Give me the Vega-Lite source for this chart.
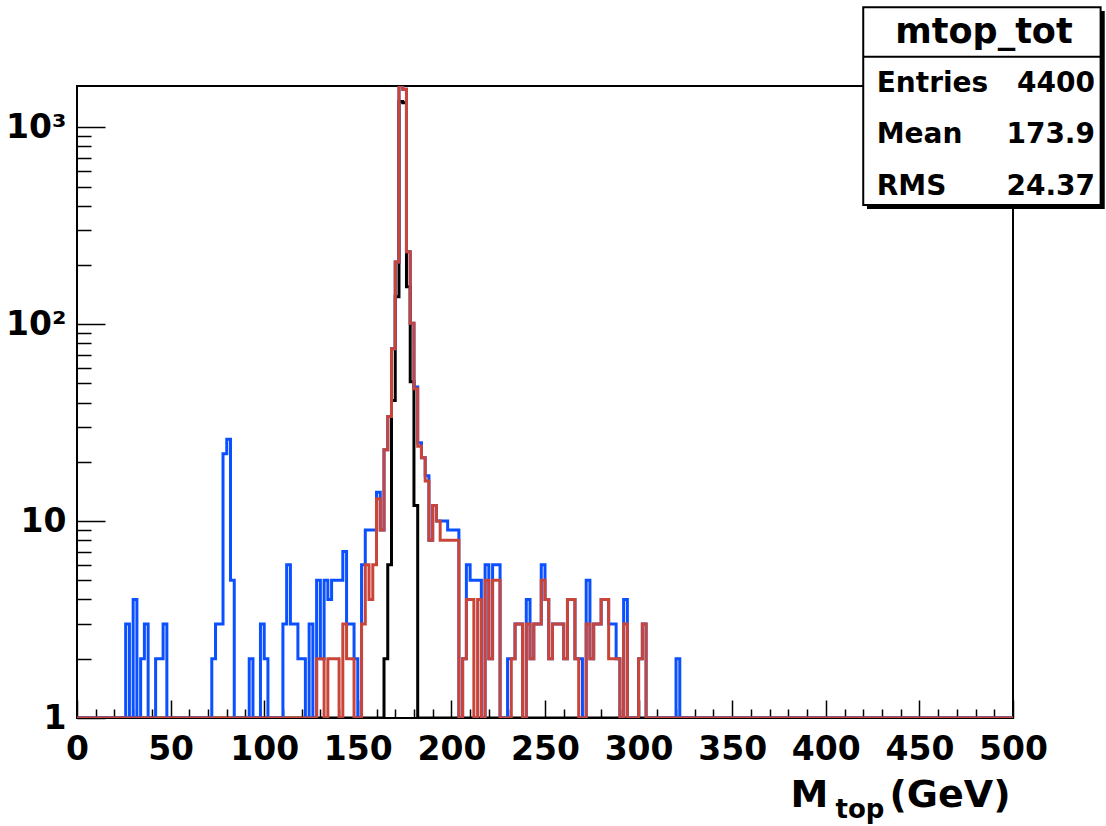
{
"$schema": "https://vega.github.io/schema/vega-lite/v6.json",
"width": 936, "height": 632,
"autosize": {"type": "none"},
"padding": {"left": 77, "top": 86, "right": 93, "bottom": 108},
"background": "white",
"config": {"view": {"stroke": "black", "strokeWidth": 2}, "axis": {"grid": false}},
"data": {"values": [
{"x":0,"black":1,"blue":1,"red":1},{"x":2,"black":1,"blue":1,"red":1},{"x":4,"black":1,"blue":1,"red":1},{"x":6,"black":1,"blue":1,"red":1},{"x":8,"black":1,"blue":1,"red":1},
{"x":10,"black":1,"blue":1,"red":1},{"x":12,"black":1,"blue":1,"red":1},{"x":14,"black":1,"blue":1,"red":1},{"x":16,"black":1,"blue":1,"red":1},{"x":18,"black":1,"blue":1,"red":1},
{"x":20,"black":1,"blue":1,"red":1},{"x":22,"black":1,"blue":1,"red":1},{"x":24,"black":1,"blue":1,"red":1},{"x":26,"black":1,"blue":3,"red":1},{"x":28,"black":1,"blue":1,"red":1},
{"x":30,"black":1,"blue":4,"red":1},{"x":32,"black":1,"blue":1,"red":1},{"x":34,"black":1,"blue":2,"red":1},{"x":36,"black":1,"blue":3,"red":1},{"x":38,"black":1,"blue":1,"red":1},
{"x":40,"black":1,"blue":1,"red":1},{"x":42,"black":1,"blue":2,"red":1},{"x":44,"black":1,"blue":2,"red":1},{"x":46,"black":1,"blue":3,"red":1},{"x":48,"black":1,"blue":1,"red":1},
{"x":50,"black":1,"blue":1,"red":1},{"x":52,"black":1,"blue":1,"red":1},{"x":54,"black":1,"blue":1,"red":1},{"x":56,"black":1,"blue":1,"red":1},{"x":58,"black":1,"blue":1,"red":1},
{"x":60,"black":1,"blue":1,"red":1},{"x":62,"black":1,"blue":1,"red":1},{"x":64,"black":1,"blue":1,"red":1},{"x":66,"black":1,"blue":1,"red":1},{"x":68,"black":1,"blue":1,"red":1},
{"x":70,"black":1,"blue":1,"red":1},{"x":72,"black":1,"blue":2,"red":1},{"x":74,"black":1,"blue":3,"red":1},{"x":76,"black":1,"blue":3,"red":1},{"x":78,"black":1,"blue":22,"red":1},
{"x":80,"black":1,"blue":26,"red":1},{"x":82,"black":1,"blue":5,"red":1},{"x":84,"black":1,"blue":1,"red":1},{"x":86,"black":1,"blue":1,"red":1},{"x":88,"black":1,"blue":1,"red":1},
{"x":90,"black":1,"blue":1,"red":1},{"x":92,"black":1,"blue":2,"red":1},{"x":94,"black":1,"blue":1,"red":1},{"x":96,"black":1,"blue":1,"red":1},{"x":98,"black":1,"blue":3,"red":1},
{"x":100,"black":1,"blue":2,"red":1},{"x":102,"black":1,"blue":1,"red":1},{"x":104,"black":1,"blue":1,"red":1},{"x":106,"black":1,"blue":1,"red":1},{"x":108,"black":1,"blue":1,"red":1},
{"x":110,"black":1,"blue":3,"red":1},{"x":112,"black":1,"blue":6,"red":1},{"x":114,"black":1,"blue":3,"red":1},{"x":116,"black":1,"blue":3,"red":1},{"x":118,"black":1,"blue":2,"red":1},
{"x":120,"black":1,"blue":2,"red":1},{"x":122,"black":1,"blue":1,"red":1},{"x":124,"black":1,"blue":3,"red":1},{"x":126,"black":1,"blue":1,"red":1},{"x":128,"black":1,"blue":5,"red":2},
{"x":130,"black":1,"blue":2,"red":2},{"x":132,"black":1,"blue":5,"red":1},{"x":134,"black":1,"blue":4,"red":2},{"x":136,"black":1,"blue":5,"red":2},{"x":138,"black":1,"blue":5,"red":2},
{"x":140,"black":1,"blue":5,"red":1},{"x":142,"black":1,"blue":7,"red":3},{"x":144,"black":1,"blue":3,"red":2},{"x":146,"black":1,"blue":3,"red":2},{"x":148,"black":1,"blue":2,"red":1},
{"x":150,"black":1,"blue":1,"red":1},{"x":152,"black":1,"blue":6,"red":3},{"x":154,"black":1,"blue":9,"red":6},{"x":156,"black":1,"blue":9,"red":4},{"x":158,"black":1,"blue":9,"red":6},
{"x":160,"black":1,"blue":14,"red":13},{"x":162,"black":1,"blue":9,"red":9},{"x":164,"black":2,"blue":23,"red":23},{"x":166,"black":6,"blue":34,"red":34},{"x":168,"black":41,"blue":75,"red":75},
{"x":170,"black":138,"blue":207,"red":207},{"x":172,"black":1350,"blue":1640,"red":1640},{"x":174,"black":1330,"blue":1560,"red":1560},{"x":176,"black":155,"blue":233,"red":233},{"x":178,"black":51,"blue":101,"red":101},
{"x":180,"black":12,"blue":48,"red":47},{"x":182,"black":1,"blue":25,"red":24},{"x":184,"black":1,"blue":21,"red":21},{"x":186,"black":1,"blue":17,"red":16},{"x":188,"black":1,"blue":8,"red":8},
{"x":190,"black":1,"blue":12,"red":12},{"x":192,"black":1,"blue":10,"red":10},{"x":194,"black":1,"blue":10,"red":8},{"x":196,"black":1,"blue":10,"red":8},{"x":198,"black":1,"blue":9,"red":8},
{"x":200,"black":1,"blue":9,"red":8},{"x":202,"black":1,"blue":9,"red":8},{"x":204,"black":1,"blue":1,"red":1},{"x":206,"black":1,"blue":2,"red":2},{"x":208,"black":1,"blue":6,"red":4},
{"x":210,"black":1,"blue":5,"red":4},{"x":212,"black":1,"blue":5,"red":1},{"x":214,"black":1,"blue":5,"red":4},{"x":216,"black":1,"blue":1,"red":1},{"x":218,"black":1,"blue":6,"red":5},
{"x":220,"black":1,"blue":2,"red":2},{"x":222,"black":1,"blue":6,"red":5},{"x":224,"black":1,"blue":6,"red":5},{"x":226,"black":1,"blue":1,"red":1},{"x":228,"black":1,"blue":1,"red":1},
{"x":230,"black":1,"blue":2,"red":1},{"x":232,"black":1,"blue":2,"red":2},{"x":234,"black":1,"blue":3,"red":3},{"x":236,"black":1,"blue":3,"red":3},{"x":238,"black":1,"blue":1,"red":1},
{"x":240,"black":1,"blue":4,"red":3},{"x":242,"black":1,"blue":2,"red":2},{"x":244,"black":1,"blue":3,"red":3},{"x":246,"black":1,"blue":3,"red":3},{"x":248,"black":1,"blue":6,"red":5},
{"x":250,"black":1,"blue":4,"red":4},{"x":252,"black":1,"blue":2,"red":2},{"x":254,"black":1,"blue":3,"red":3},{"x":256,"black":1,"blue":3,"red":3},{"x":258,"black":1,"blue":3,"red":3},
{"x":260,"black":1,"blue":2,"red":2},{"x":262,"black":1,"blue":4,"red":4},{"x":264,"black":1,"blue":4,"red":4},{"x":266,"black":1,"blue":2,"red":2},{"x":268,"black":1,"blue":2,"red":1},
{"x":270,"black":1,"blue":1,"red":1},{"x":272,"black":1,"blue":5,"red":3},{"x":274,"black":1,"blue":2,"red":2},{"x":276,"black":1,"blue":3,"red":3},{"x":278,"black":1,"blue":3,"red":3},
{"x":280,"black":1,"blue":4,"red":4},{"x":282,"black":1,"blue":4,"red":4},{"x":284,"black":1,"blue":3,"red":2},{"x":286,"black":1,"blue":3,"red":2},{"x":288,"black":1,"blue":2,"red":2},
{"x":290,"black":1,"blue":1,"red":1},{"x":292,"black":1,"blue":4,"red":3},{"x":294,"black":1,"blue":1,"red":1},{"x":296,"black":1,"blue":1,"red":1},{"x":298,"black":1,"blue":1,"red":1},
{"x":300,"black":1,"blue":2,"red":2},{"x":302,"black":1,"blue":3,"red":3},{"x":304,"black":1,"blue":1,"red":1},{"x":306,"black":1,"blue":1,"red":1},{"x":308,"black":1,"blue":1,"red":1},
{"x":310,"black":1,"blue":1,"red":1},{"x":312,"black":1,"blue":1,"red":1},{"x":314,"black":1,"blue":1,"red":1},{"x":316,"black":1,"blue":1,"red":1},{"x":318,"black":1,"blue":1,"red":1},
{"x":320,"black":1,"blue":2,"red":1},{"x":322,"black":1,"blue":1,"red":1},{"x":324,"black":1,"blue":1,"red":1},{"x":326,"black":1,"blue":1,"red":1},{"x":328,"black":1,"blue":1,"red":1},
{"x":330,"black":1,"blue":1,"red":1},{"x":332,"black":1,"blue":1,"red":1},{"x":334,"black":1,"blue":1,"red":1},{"x":336,"black":1,"blue":1,"red":1},{"x":338,"black":1,"blue":1,"red":1},
{"x":340,"black":1,"blue":1,"red":1},{"x":342,"black":1,"blue":1,"red":1},{"x":344,"black":1,"blue":1,"red":1},{"x":346,"black":1,"blue":1,"red":1},{"x":348,"black":1,"blue":1,"red":1},
{"x":350,"black":1,"blue":1,"red":1},{"x":352,"black":1,"blue":1,"red":1},{"x":354,"black":1,"blue":1,"red":1},{"x":356,"black":1,"blue":1,"red":1},{"x":358,"black":1,"blue":1,"red":1},
{"x":360,"black":1,"blue":1,"red":1},{"x":362,"black":1,"blue":1,"red":1},{"x":364,"black":1,"blue":1,"red":1},{"x":366,"black":1,"blue":1,"red":1},{"x":368,"black":1,"blue":1,"red":1},
{"x":370,"black":1,"blue":1,"red":1},{"x":372,"black":1,"blue":1,"red":1},{"x":374,"black":1,"blue":1,"red":1},{"x":376,"black":1,"blue":1,"red":1},{"x":378,"black":1,"blue":1,"red":1},
{"x":380,"black":1,"blue":1,"red":1},{"x":382,"black":1,"blue":1,"red":1},{"x":384,"black":1,"blue":1,"red":1},{"x":386,"black":1,"blue":1,"red":1},{"x":388,"black":1,"blue":1,"red":1},
{"x":390,"black":1,"blue":1,"red":1},{"x":392,"black":1,"blue":1,"red":1},{"x":394,"black":1,"blue":1,"red":1},{"x":396,"black":1,"blue":1,"red":1},{"x":398,"black":1,"blue":1,"red":1},
{"x":400,"black":1,"blue":1,"red":1},{"x":402,"black":1,"blue":1,"red":1},{"x":404,"black":1,"blue":1,"red":1},{"x":406,"black":1,"blue":1,"red":1},{"x":408,"black":1,"blue":1,"red":1},
{"x":410,"black":1,"blue":1,"red":1},{"x":412,"black":1,"blue":1,"red":1},{"x":414,"black":1,"blue":1,"red":1},{"x":416,"black":1,"blue":1,"red":1},{"x":418,"black":1,"blue":1,"red":1},
{"x":420,"black":1,"blue":1,"red":1},{"x":422,"black":1,"blue":1,"red":1},{"x":424,"black":1,"blue":1,"red":1},{"x":426,"black":1,"blue":1,"red":1},{"x":428,"black":1,"blue":1,"red":1},
{"x":430,"black":1,"blue":1,"red":1},{"x":432,"black":1,"blue":1,"red":1},{"x":434,"black":1,"blue":1,"red":1},{"x":436,"black":1,"blue":1,"red":1},{"x":438,"black":1,"blue":1,"red":1},
{"x":440,"black":1,"blue":1,"red":1},{"x":442,"black":1,"blue":1,"red":1},{"x":444,"black":1,"blue":1,"red":1},{"x":446,"black":1,"blue":1,"red":1},{"x":448,"black":1,"blue":1,"red":1},
{"x":450,"black":1,"blue":1,"red":1},{"x":452,"black":1,"blue":1,"red":1},{"x":454,"black":1,"blue":1,"red":1},{"x":456,"black":1,"blue":1,"red":1},{"x":458,"black":1,"blue":1,"red":1},
{"x":460,"black":1,"blue":1,"red":1},{"x":462,"black":1,"blue":1,"red":1},{"x":464,"black":1,"blue":1,"red":1},{"x":466,"black":1,"blue":1,"red":1},{"x":468,"black":1,"blue":1,"red":1},
{"x":470,"black":1,"blue":1,"red":1},{"x":472,"black":1,"blue":1,"red":1},{"x":474,"black":1,"blue":1,"red":1},{"x":476,"black":1,"blue":1,"red":1},{"x":478,"black":1,"blue":1,"red":1},
{"x":480,"black":1,"blue":1,"red":1},{"x":482,"black":1,"blue":1,"red":1},{"x":484,"black":1,"blue":1,"red":1},{"x":486,"black":1,"blue":1,"red":1},{"x":488,"black":1,"blue":1,"red":1},
{"x":490,"black":1,"blue":1,"red":1},{"x":492,"black":1,"blue":1,"red":1},{"x":494,"black":1,"blue":1,"red":1},{"x":496,"black":1,"blue":1,"red":1},{"x":498,"black":1,"blue":1,"red":1},
{"x":500,"black":1,"blue":1,"red":1}
]},
"layer": [
  {"transform": [{"fold": ["black"], "as": ["series", "count"]}],
   "mark": {"type": "line", "interpolate": "step-after", "color": "black", "strokeWidth": 3, "clip": true},
   "encoding": {
     "x": {"field": "x", "type": "quantitative", "scale": {"domain": [0, 500], "nice": false, "zero": false},
       "axis": {"orient": "bottom", "values": [10,20,30,40,60,70,80,90,110,120,130,140,160,170,180,190,210,220,230,240,260,270,280,290,310,320,330,340,360,370,380,390,410,420,430,440,460,470,480,490],
         "labels": false, "domain": false, "tickColor": "black", "tickWidth": 1.5, "tickSize": -9,
         "title": "top", "titleFont": "DejaVu Sans", "titleFontWeight": "bold", "titleFontSize": 26, "titleColor": "black",
         "titleAnchor": "start", "titleAlign": "left", "titleX": 758, "titleY": 99, "titleBaseline": "alphabetic"}},
     "y": {"field": "count", "type": "quantitative", "scale": {"type": "log", "domain": [1, 1620], "nice": false},
       "axis": {"orient": "left", "values": [2,3,4,5,6,7,8,9,20,30,40,50,60,70,80,90,200,300,400,500,600,700,800,900],
         "labels": false, "domain": false, "tickColor": "black", "tickWidth": 1.5, "tickSize": -14, "title": null}}
   }},
  {"transform": [{"fold": ["blue"], "as": ["series", "count"]}],
   "mark": {"type": "line", "interpolate": "step-after", "color": "#0a50ff", "strokeWidth": 3, "clip": true},
   "encoding": {
     "x": {"field": "x", "type": "quantitative", "scale": {"domain": [0, 500], "nice": false, "zero": false},
       "axis": {"orient": "bottom", "values": [], "labels": false, "ticks": false, "domain": false,
         "title": "(GeV)", "titleFont": "DejaVu Sans", "titleFontWeight": "bold", "titleFontSize": 38, "titleColor": "black",
         "titleAnchor": "end", "titleAlign": "right", "titleX": 933, "titleY": 88, "titleBaseline": "alphabetic"}},
     "y": {"field": "count", "type": "quantitative", "scale": {"type": "log", "domain": [1, 1620], "nice": false}, "axis": null}
   }},
  {"transform": [{"fold": ["red"], "as": ["series", "count"]}],
   "mark": {"type": "line", "interpolate": "step-after", "color": "#c9453a", "strokeWidth": 3, "clip": true},
   "encoding": {
     "x": {"field": "x", "type": "quantitative", "scale": {"domain": [0, 500], "nice": false, "zero": false},
       "axis": {"orient": "bottom", "values": [0,50,100,150,200,250,300,350,400,450,500], "format": "d",
         "domain": false, "tickColor": "black", "tickWidth": 1.5, "tickSize": -18,
         "labelFont": "DejaVu Sans", "labelFontWeight": "bold", "labelFontSize": 33, "labelColor": "black",
         "labelPadding": 33, "labelFlush": false, "labelOverlap": false, "labelBound": false,
         "title": "M", "titleFont": "DejaVu Sans", "titleFontWeight": "bold", "titleFontSize": 38, "titleColor": "black",
         "titleAnchor": "start", "titleAlign": "left", "titleX": 713, "titleY": 88, "titleBaseline": "alphabetic"}},
     "y": {"field": "count", "type": "quantitative", "scale": {"type": "log", "domain": [1, 1620], "nice": false},
       "axis": {"orient": "left", "values": [1, 10, 100, 1000],
         "labelExpr": "datum.value === 1000 ? '10³' : datum.value === 100 ? '10²' : datum.value === 10 ? '10' : '1'",
         "domain": false, "tickColor": "black", "tickWidth": 1.5, "tickSize": -28,
         "labelFont": "DejaVu Sans", "labelFontWeight": "bold", "labelFontSize": 33, "labelColor": "black",
         "labelPadding": 39, "labelOverlap": false, "labelFlush": false, "labelBound": false, "title": null}}
   }},
  {"data": {"values": [{}]},
   "mark": {"type": "rect", "color": "black", "clip": false},
   "encoding": {"x": {"datum": 422, "type": "quantitative", "axis": null}, "x2": {"datum": 549},
                "y": {"datum": 3897, "type": "quantitative", "axis": null}, "y2": {"datum": 385}}},
  {"data": {"values": [{}]},
   "mark": {"type": "rect", "fill": "white", "stroke": "black", "strokeWidth": 2, "clip": false},
   "encoding": {"x": {"datum": 420, "type": "quantitative", "axis": null}, "x2": {"datum": 546.8},
                "y": {"datum": 4069, "type": "quantitative", "axis": null}, "y2": {"datum": 403}}},
  {"data": {"values": [{}]},
   "mark": {"type": "rule", "color": "black", "strokeWidth": 2, "clip": false},
   "encoding": {"x": {"datum": 420, "type": "quantitative", "axis": null}, "x2": {"datum": 546.8},
                "y": {"datum": 2283, "type": "quantitative", "axis": null}}},
  {"data": {"values": [{}]},
   "mark": {"type": "text", "text": "mtop_tot", "font": "DejaVu Sans", "fontWeight": "bold", "fontSize": 35, "align": "center", "baseline": "alphabetic", "color": "black", "clip": false},
   "encoding": {"x": {"datum": 484.5, "type": "quantitative", "axis": null}, "y": {"datum": 2671, "type": "quantitative", "axis": null}}},
  {"data": {"values": [{}]},
   "mark": {"type": "text", "text": ["Entries", "Mean", "RMS"], "lineHeight": 51.65, "font": "DejaVu Sans", "fontWeight": "bold", "fontSize": 28, "align": "left", "baseline": "alphabetic", "color": "black", "clip": false},
   "encoding": {"x": {"datum": 427.2, "type": "quantitative", "axis": null}, "y": {"datum": 1516, "type": "quantitative", "axis": null}}},
  {"data": {"values": [{}]},
   "mark": {"type": "text", "text": ["4400", "173.9", "24.37"], "lineHeight": 51.65, "font": "DejaVu Sans", "fontWeight": "bold", "fontSize": 28, "align": "right", "baseline": "alphabetic", "color": "black", "clip": false},
   "encoding": {"x": {"datum": 543.8, "type": "quantitative", "axis": null}, "y": {"datum": 1516, "type": "quantitative", "axis": null}}}
],
"resolve": {"axis": {"x": "independent", "y": "independent"}}
}
